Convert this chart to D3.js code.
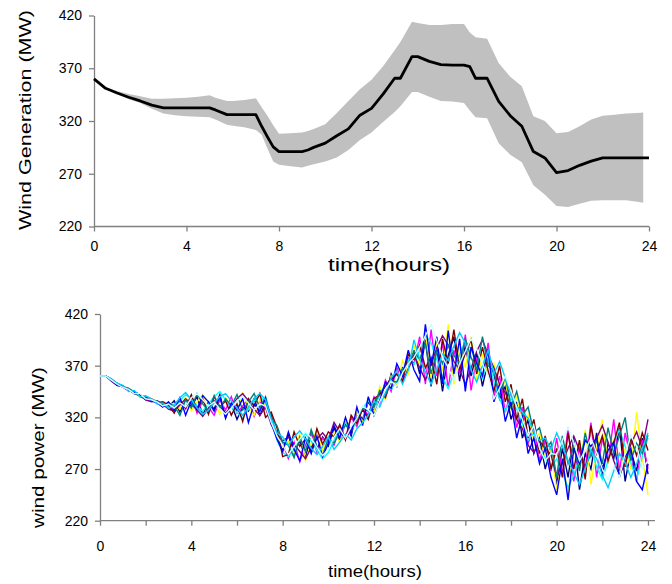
<!DOCTYPE html>
<html lang="en">
<head>
    <meta charset="UTF-8">
    <title>Wind generation scenarios</title>
    <script src="https://d3js.org/d3.v7.min.js"></script>
    <style>
        body { margin: 0; background: #ffffff; }
        text { font-family: "Liberation Sans", Arial, sans-serif; fill: #000000; }
        .axis path, .axis line { stroke: #808080; stroke-width: 1.3px; }
    </style>
</head>
<body>
    <svg width="672" height="584"></svg>

    <script>
        // ---- top chart: mean forecast with min/max band ----
        const topHours = [0,0.5,1,1.5,2,2.5,3,3.5,4,4.5,5,5.25,5.75,6,6.5,7,7.25,7.5,7.75,8,
            8.5,9,9.25,9.5,10,10.5,11,11.5,12,12.5,13,13.25,13.75,14,14.5,15,15.5,16,16.25,16.5,
            17,17.5,18,18.5,19,19.5,20,20.5,21,21.5,22,22.5,23,23.5,23.75,24];
        const meanGen = [360,351,346.5,342.5,339,335,332.5,332.5,332.5,332.5,
            332.5,330.5,326,326,326,326,315,305,295.5,291,
            291,291,292.5,295,299,306,312.5,325.5,332,345.5,
            360.5,360.5,381,381,376.5,373.5,373,373,371.5,360.5,
            360.5,338.5,325,315,291,285,271,273,278,282,
            285,285,285,285,285,285];
        const upperGen = [360,351.5,348.5,345.5,343.5,341,341,341.5,342,343,
            344.5,342,339,339,340,341.5,333,325,316,308,
            308.5,309,310.5,312.5,317,327.5,339,350,359,372,
            387,395,414,413,411,411,412,412,404,399.5,
            398,375,362,353,324.5,320,308.5,309.5,315,321.5,
            325,326,327,327.5,328,null];
        const lowerGen = [360,350.5,345.5,340.5,337,331.5,327,325.5,324.5,324,
            323.5,321.5,316.5,315.5,314,311.5,307,294,281.5,278.5,
            277,276,277.5,279,281.5,285.5,292.5,302,309,319,
            328.5,334,347.5,347.5,343,339,338.5,337,330,323.5,
            322.5,299,288,281,259,250,239.5,238.5,241.5,244.5,
            245,245,245,243.5,242.5,null];

        // ---- bottom chart: ten scenarios, one value every 15 minutes ----
        const scenarioHours = [0,0.25,0.5,0.75,1,1.25,1.5,1.75,2,2.25,2.5,2.75,3,3.25,3.5,3.75,
            4,4.25,4.5,4.75,5,5.25,5.5,5.75,6,6.25,6.5,6.75,7,7.25,7.5,7.75,
            8,8.25,8.5,8.75,9,9.25,9.5,9.75,10,10.25,10.5,10.75,11,11.25,11.5,11.75,
            12,12.25,12.5,12.75,13,13.25,13.5,13.75,14,14.25,14.5,14.75,15,15.25,15.5,15.75,
            16,16.25,16.5,16.75,17,17.25,17.5,17.75,18,18.25,18.5,18.75,19,19.25,19.5,19.75,
            20,20.25,20.5,20.75,21,21.25,21.5,21.75,22,22.25,22.5,22.75,23,23.25,23.5,23.75,24];

        const navyRun = [360,360,356,351,350,348,343,342,337,337,334,334,330,
            336,325,338,330,340,322,335,328,342,320,333,318,330,326,338,322,334,
            322,300,288,
            303,284,298,280,306,289,301,292,
            310,297,315,302,326,318,335,326,345,340,362,350,368,365,385,
            362,395,350,388,345,380,398,355,390,360,382,350,375,
            362,338,350,318,335,300,318,285,300,270,292,
            255,290,262,300,250,285,270,305,262,295,280,310,258,288,268,300,265];
        const magentaRun = [360,360,357,353,349,346,345,342,338,336,336,331,330,
            326,338,328,341,324,336,330,322,337,327,340,324,331,338,321,335,329,
            315,305,295,
            280,296,277,293,305,286,300,296,
            293,311,300,320,311,330,322,340,333,356,345,368,355,378,372,
            398,352,405,360,392,348,385,362,400,346,378,358,392,
            340,360,325,345,310,330,295,310,278,298,268,
            300,265,310,258,292,270,315,262,300,275,318,268,305,280,258,298,270];
        const yellowRun = [360,360,356,352,351,347,344,340,340,338,334,333,333,
            333,328,340,326,335,342,327,336,323,339,331,325,343,330,322,337,332,
            318,302,292,
            297,285,304,278,295,308,288,302,
            305,296,318,305,327,315,338,324,350,337,360,352,375,362,390,
            370,402,358,395,365,410,352,388,368,398,355,380,362,
            372,345,355,328,340,312,322,298,305,280,290,
            250,280,245,295,270,308,255,290,318,275,300,262,290,270,325,282,245];
        const cyanRun = [360,360,357,352,349,348,343,341,340,336,335,332,331,
            330,336,342,338,331,326,333,340,345,337,330,325,319,328,336,341,334,
            318,298,286,
            282,289,298,304,297,288,280,286,
            298,307,315,307,316,329,336,330,341,353,347,355,366,376,371,
            385,400,392,376,359,348,363,381,394,386,370,358,376,
            355,338,326,339,328,314,298,305,292,280,271,
            280,266,252,264,282,298,290,272,260,278,296,308,292,276,260,282,300];
        const purpleRun = [360,360,355,351,350,346,344,342,337,335,336,333,328,
            326,332,338,333,327,321,329,336,331,324,330,338,343,336,328,322,330,
            313,304,297,
            301,294,287,280,291,299,305,298,
            315,306,299,308,320,327,321,333,344,339,356,362,354,367,380,
            368,356,371,387,399,390,374,366,352,367,384,395,380,
            368,352,344,330,318,309,293,286,297,290,284,
            262,276,290,302,288,272,285,300,312,296,278,264,276,294,306,290,318];
        const maroonRun = [360,360,356,353,350,347,343,341,339,338,334,335,332,
            324,335,329,342,327,338,323,340,330,336,322,333,316,338,331,343,320,
            325,310,282,
            284,306,292,299,286,309,294,306,
            301,313,298,322,314,328,318,338,342,350,358,362,355,381,376,
            390,368,378,352,396,372,405,366,382,395,362,388,365,
            345,370,335,352,318,338,300,318,285,302,270,
            290,262,305,270,298,260,312,285,302,278,295,315,272,300,283,305,288];
        const tealRun = [360,360,357,352,349,348,345,340,338,337,336,332,334,
            331,322,337,329,343,333,326,341,329,338,331,342,327,335,343,329,340,
            319,312,296,
            293,281,301,287,308,292,283,300,
            295,306,312,309,318,329,326,330,346,342,356,354,366,372,384,
            376,392,362,384,372,390,380,372,396,378,366,398,370,
            365,340,360,330,345,322,330,305,310,288,296,
            262,302,275,292,268,305,282,298,275,310,285,302,320,278,295,285,303];
        const blueRun = [360,360,356,351,350,346,344,342,339,336,334,330,335,
            327,339,322,336,328,341,335,326,340,319,334,327,338,315,333,326,338,
            314,299,287,
            306,289,278,300,285,302,282,295,
            312,300,320,304,330,312,340,322,336,354,348,372,360,385,366,
            355,410,370,398,352,404,362,396,345,388,372,360,386,
            335,352,316,335,300,322,285,300,275,290,262,
            245,280,240,290,275,298,292,300,270,288,296,262,282,290,258,250,275];
        const skyRun = [360,360,357,353,351,345,346,340,341,338,333,334,329,
            332,339,344,337,329,323,327,334,340,343,336,329,322,330,338,343,337,
            319,305,301,
            293,301,307,299,290,284,292,301,
            289,296,304,298,309,315,322,336,330,344,358,365,352,366,395,
            376,364,352,366,381,375,389,402,392,366,354,370,385,
            362,374,358,342,331,325,319,306,298,300,289,
            305,292,278,266,255,270,288,280,264,252,268,285,276,262,275,290,305];
        const paleCyanRun = [360,360,356,352,349,347,343,343,338,337,335,331,333,
            329,334,330,339,343,337,331,335,328,323,329,336,340,334,327,333,331,
            315,302,293,
            284,292,299,306,300,291,283,289,
            301,309,300,311,319,331,327,322,335,347,355,350,363,372,378,
            388,399,410,394,378,368,356,372,384,396,386,372,360,
            338,348,360,346,330,318,302,312,290,278,285,
            284,298,310,296,278,288,300,286,270,260,272,262,285,302,292,270,278];

        const scenarioRuns = [navyRun, magentaRun, yellowRun, cyanRun, purpleRun,
            maroonRun, tealRun, blueRun, skyRun, paleCyanRun];
        const scenarioColors = ["#000080", "#ff00ff", "#ffff00", "#00ffff", "#800080",
            "#800000", "#008080", "#0000ff", "#00ccff", "#ccffff"];

        const yTicks = [220, 270, 320, 370, 420];
        const topXTicks = [0, 4, 8, 12, 16, 20, 24];
        const bottomXTicks = [0, 2, 4, 6, 8, 10, 12, 14, 16, 18, 20, 22, 24];

        const svg = d3.select("svg");

        function drawAxes(g, x, y, xTicks, xLabelEvery, axisEnd, xPad) {
            g.append("g").attr("class", "axis")
                .attr("transform", `translate(${x.range()[0]},0)`)
                .call(d3.axisLeft(y).tickValues(yTicks).tickSize(5).tickPadding(7).tickSizeOuter(0));
            const xAxisG = g.append("g").attr("class", "axis")
                .attr("transform", `translate(0,${y.range()[0]})`)
                .call(d3.axisBottom(x).tickValues(xTicks).tickSize(5).tickPadding(xPad).tickSizeOuter(0)
                    .tickFormat(d => d % xLabelEvery === 0 ? d : ""));
            xAxisG.select(".domain").attr("d", `M${x.range()[0]},0H${axisEnd}`);
            g.selectAll(".axis text").style("font-size", "14px").attr("fill", "#000");
        }

        // ---------- top chart ----------
        const xTop = d3.scaleLinear().domain([0, 24]).range([94, 649]);
        const yTop = d3.scaleLinear().domain([220, 420]).range([226.5, 15.5]);
        const topG = svg.append("g");

        const bandData = topHours.map((h, i) => ({ h: h, lo: lowerGen[i], hi: upperGen[i], m: meanGen[i] }));

        topG.append("path")
            .datum(bandData)
            .attr("fill", "#c0c0c0")
            .attr("d", d3.area()
                .defined(d => d.hi != null)
                .x(d => xTop(d.h))
                .y0(d => yTop(d.lo))
                .y1(d => yTop(d.hi)));

        drawAxes(topG, xTop, yTop, topXTicks, 4, 649, 10);

        topG.append("path")
            .datum(bandData)
            .attr("fill", "none")
            .attr("stroke", "#000")
            .attr("stroke-width", 2.8)
            .attr("stroke-linejoin", "round")
            .attr("d", d3.line().x(d => xTop(d.h)).y(d => yTop(d.m)));

        topG.append("text")
            .attr("x", 328).attr("y", 271)
            .attr("textLength", 122).attr("lengthAdjust", "spacingAndGlyphs")
            .style("font-size", "18px")
            .text("time(hours)");

        topG.append("text")
            .attr("transform", "translate(31,230) rotate(-90)")
            .attr("textLength", 220).attr("lengthAdjust", "spacingAndGlyphs")
            .style("font-size", "17px")
            .text("Wind Generation (MW)");

        // ---------- bottom chart ----------
        const xBot = d3.scaleLinear().domain([0, 24]).range([100, 648]);
        const yBot = d3.scaleLinear().domain([220, 420]).range([520.7, 314]);
        const botG = svg.append("g");

        drawAxes(botG, xBot, yBot, bottomXTicks, 4, 655, 15);

        const runLine = d3.line()
            .x((d, i) => xBot(scenarioHours[i]))
            .y(d => yBot(d));

        botG.selectAll("path.run")
            .data(scenarioRuns)
            .join("path")
            .attr("class", "run")
            .attr("fill", "none")
            .attr("stroke", (d, i) => scenarioColors[i])
            .attr("stroke-width", 1.4)
            .attr("d", runLine);

        botG.append("text")
            .attr("x", 328).attr("y", 577)
            .attr("textLength", 94).attr("lengthAdjust", "spacingAndGlyphs")
            .style("font-size", "16px")
            .text("time(hours)");

        botG.append("text")
            .attr("transform", "translate(44,528) rotate(-90)")
            .attr("textLength", 161).attr("lengthAdjust", "spacingAndGlyphs")
            .style("font-size", "17px")
            .text("wind power (MW)");
    </script>
</body>
</html>
